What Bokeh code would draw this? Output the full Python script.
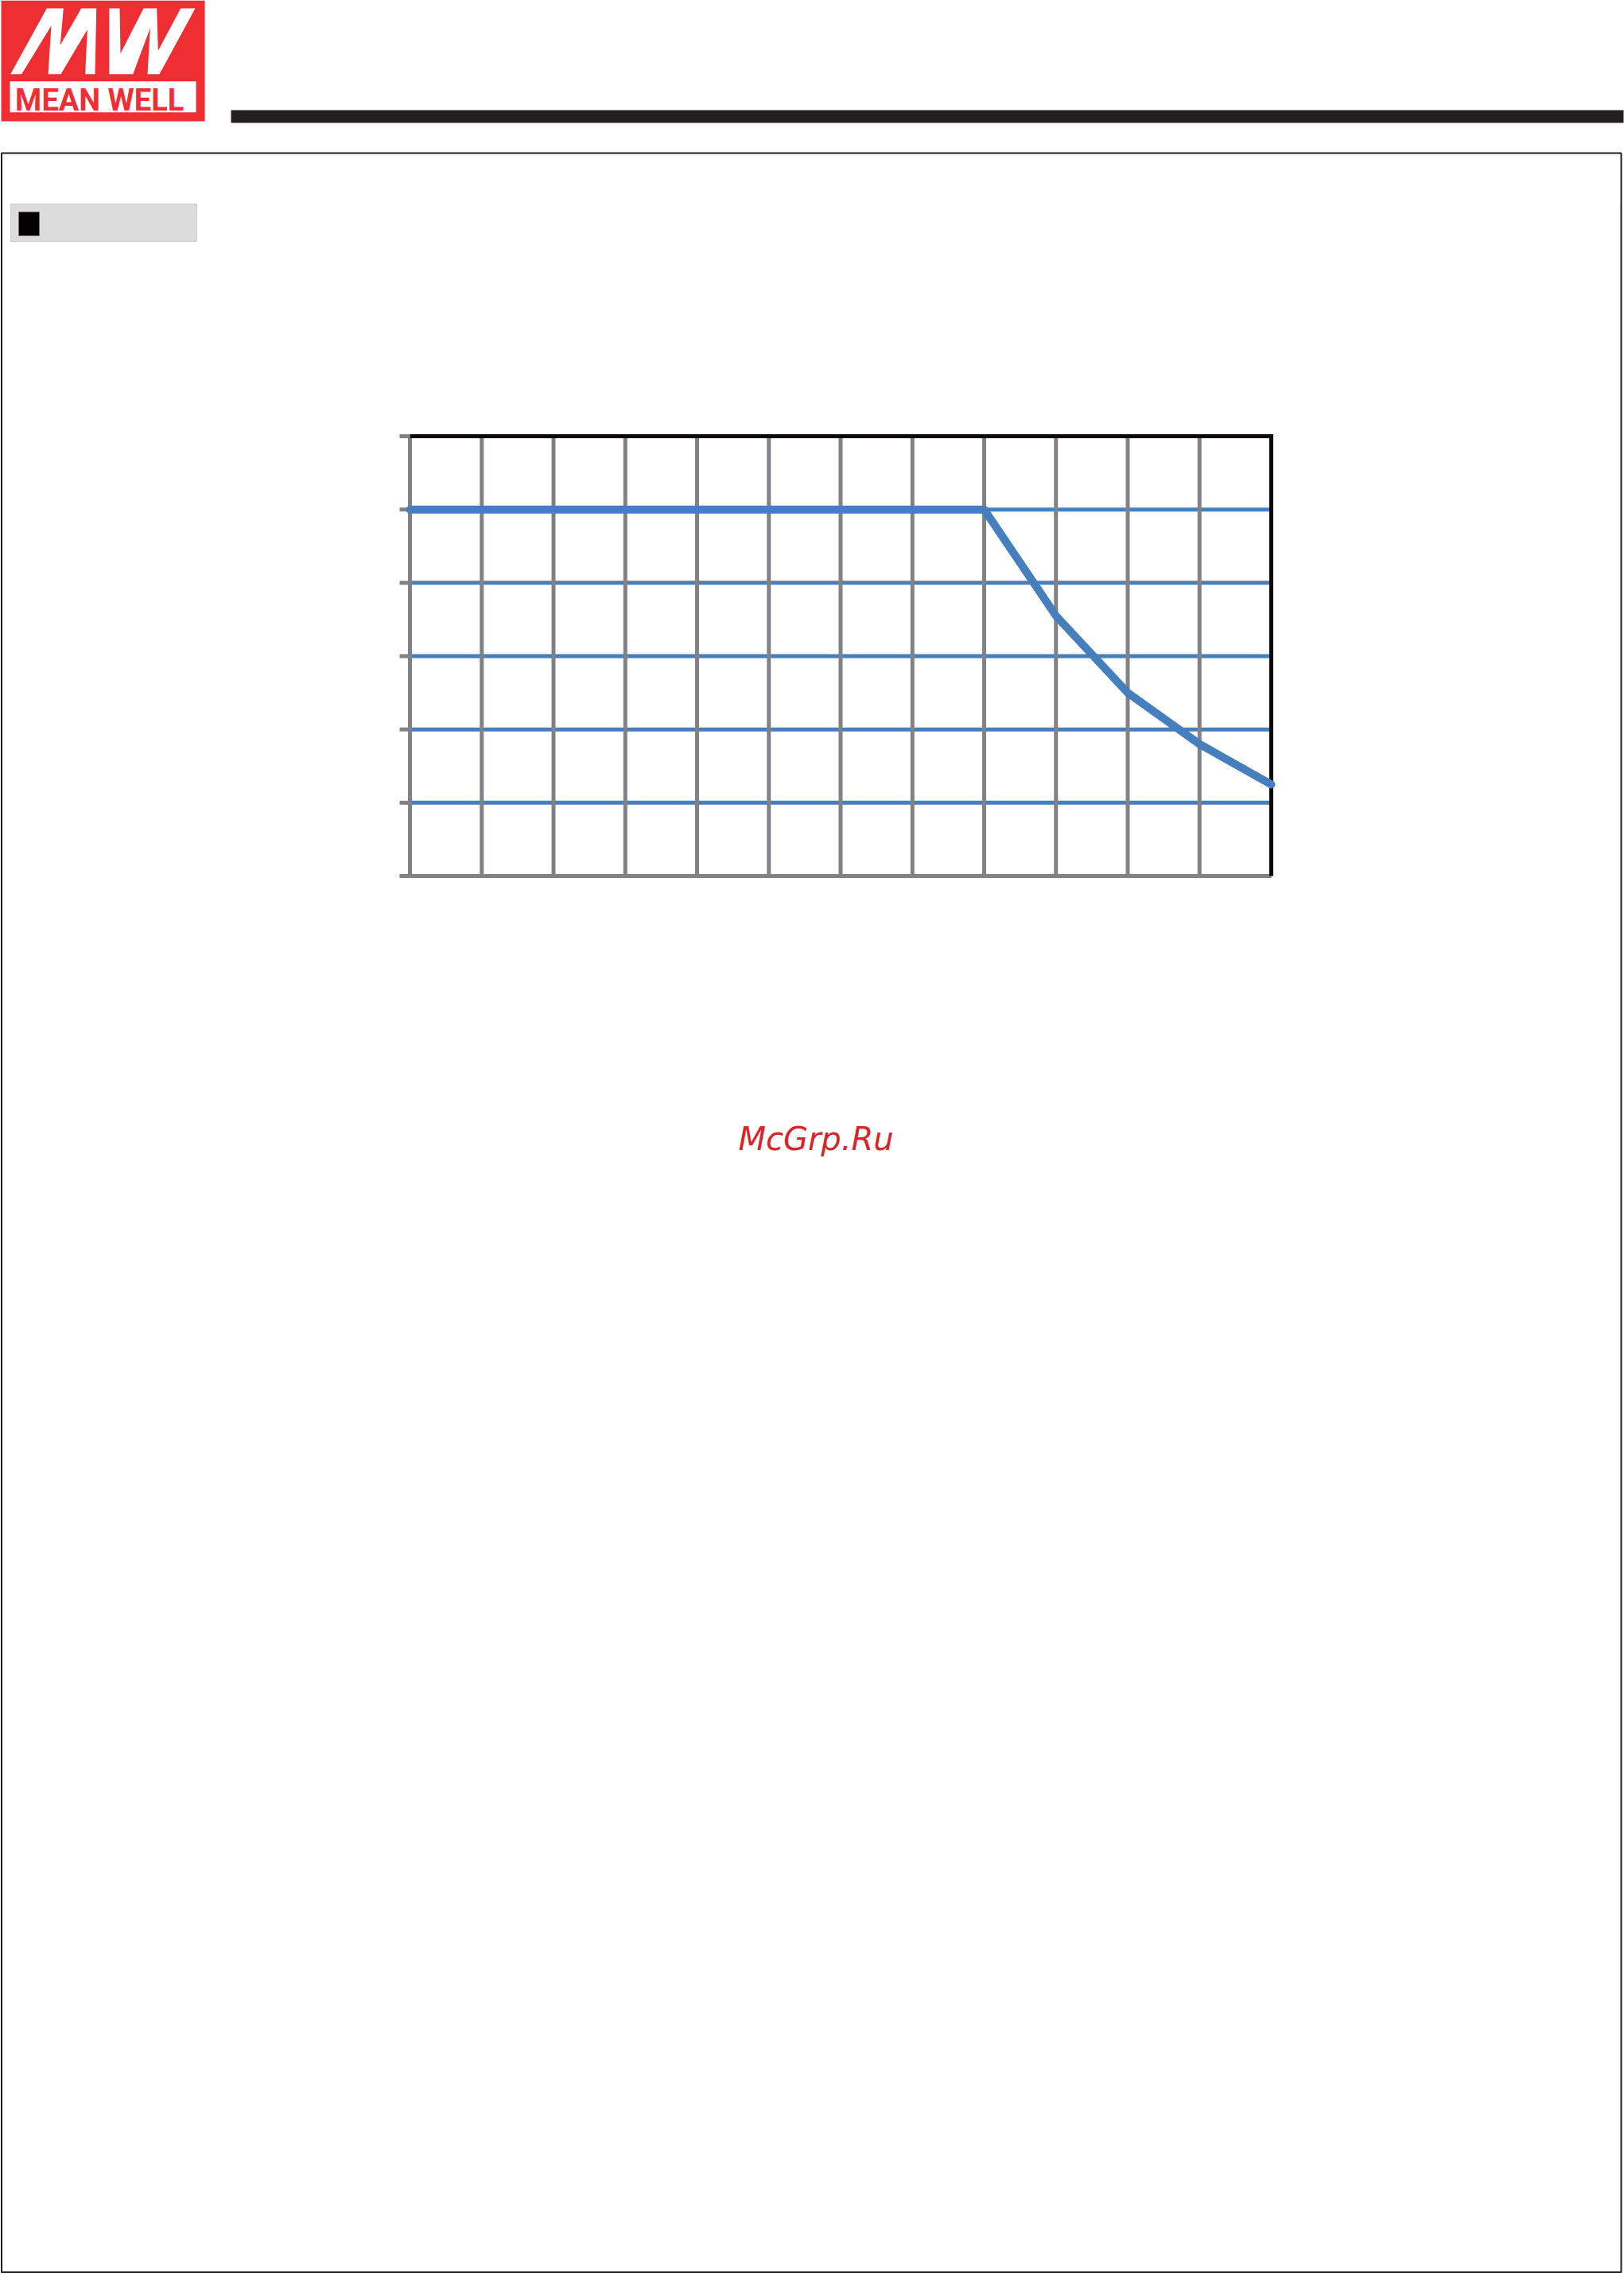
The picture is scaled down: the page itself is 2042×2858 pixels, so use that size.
from bokeh.plotting import figure
from bokeh.models import Range1d
from bokeh.embed import file_html
from bokeh.resources import INLINE
from bokeh.core.properties import value

# ---------------- data ----------------
temps = [-40, -30, -20, -10, 0, 10, 20, 30, 40, 50, 60, 70, 80]      # x grid (ambient temperature)
loads = [0, 20, 40, 60, 80, 100, 120]                               # y grid (load %)
curve_temp = [-40, 40, 50, 60, 70, 80]
curve_load = [100, 100, 71, 50, 36, 25]
brand = "MEAN WELL"
watermark = "McGrp.Ru"

# ---------------- layout constants (page pixels) ----------------
M = 0
W, H = 2042, 2858
PX0, PX1, PY0, PY1 = 515, 1598, 548, 1101   # chart plotting box on the page

RED = "#ee2e33"
BLUE = "#467fbd"
GRAY = "#808285"
DARK = "#231f20"

p = figure(width=W, height=H, output_backend="svg", toolbar_location=None, tools="",
           x_range=Range1d(M, M + W), y_range=Range1d(M + H, M),
           x_axis_type=None, y_axis_type=None, min_border=0,
           background_fill_color="white", border_fill_color="white")
p.outline_line_color = None

# chart ranges mapped so the data box lands on the chart area
xmin, xmax = temps[0], temps[-1]
ymin, ymax = loads[0], loads[-1]
kx = (xmax - xmin) / (PX1 - PX0)
ky = (ymax - ymin) / (PY1 - PY0)
p.extra_x_ranges = {"c": Range1d(xmin - (PX0 - M) * kx, xmax + (M + W - PX1) * kx)}
p.extra_y_ranges = {"c": Range1d(ymin - (M + H - PY1) * ky, ymax + (PY0 - M) * ky)}

# ---------------- page decorations ----------------
# logo block
p.quad(left=[1], right=[257], top=[0], bottom=[152], fill_color=RED, line_color=None)
m_x = [12.7, 58.3, 79.3, 75.3, 101.7, 120.7, 119, 106.7, 109.3, 76, 60, 64, 26.7]
m_y = [92.7, 10, 10, 56, 10, 10, 92.7, 92.7, 36.7, 92.7, 92.7, 31.7, 92.7]
w_x = [136.7, 150, 151, 180, 196.7, 198.3, 226.7, 245, 200, 185, 188.3, 166.7, 136.7]
w_y = [10, 10, 66.7, 10, 10, 63.3, 10, 10, 92.7, 92.7, 35, 92.7, 92.7]
p.patches(xs=[m_x, w_x], ys=[m_y, w_y], fill_color="white", line_color=None)
p.quad(left=[12], right=[246], top=[101.7], bottom=[140.7], fill_color="white", line_color=None)
p.text(x=[124.7], y=[125], text=[brand], text_font=value("Roboto"), text_font_style="bold",
       text_font_size="38px", text_color=RED, text_align="center", text_baseline="alphabetic")

# header bar
p.quad(left=[290], right=[2041], top=[138], bottom=[154], fill_color=DARK, line_color=None)

# page frame
p.quad(left=[1.5], right=[2038], top=[192], bottom=[2856.5], fill_color=None,
       line_color=DARK, line_width=2)

# section marker box
p.quad(left=[13], right=[247], top=[256], bottom=[303], fill_color="#dcdcdc",
       line_color="#cccccc", line_width=1)
p.quad(left=[23], right=[49], top=[266], bottom=[296], fill_color="#050000",
       line_color="#777777", line_width=1)

# ---------------- chart ----------------
inner = loads[1:-1]
p.segment(x0=[xmin] * len(inner), x1=[xmax] * len(inner), y0=inner, y1=inner,
          line_color=BLUE, line_width=5, x_range_name="c", y_range_name="c")
vx = temps[:-1]
p.segment(x0=vx, x1=vx, y0=[ymin] * len(vx), y1=[ymax] * len(vx),
          line_color=GRAY, line_width=5, x_range_name="c", y_range_name="c")
p.segment(x0=[xmin], x1=[xmax], y0=[ymin], y1=[ymin],
          line_color=GRAY, line_width=5, x_range_name="c", y_range_name="c")
# tick stubs on the left (x in page px, y in chart units)
p.segment(x0=[502] * len(loads), x1=[PX0] * len(loads), y0=loads, y1=loads,
          line_color=GRAY, line_width=5, y_range_name="c")
# black top/right border
p.line(x=[xmin, xmax, xmax], y=[ymax, ymax, ymin], line_color="#0a0606", line_width=5,
       line_join="miter", x_range_name="c", y_range_name="c")
# derating curve
p.line(x=curve_temp, y=curve_load, line_color=BLUE, line_width=10, line_join="round",
       line_cap="round", x_range_name="c", y_range_name="c")

# watermark
p.text(x=[1025.5], y=[1431], text=[watermark], text_font=value("DejaVu Sans"),
       text_font_style="italic", text_font_size="40px", text_color="#d7252b",
       text_align="center", text_baseline="alphabetic")

open("out.html", "w").write(file_html(p, INLINE))
